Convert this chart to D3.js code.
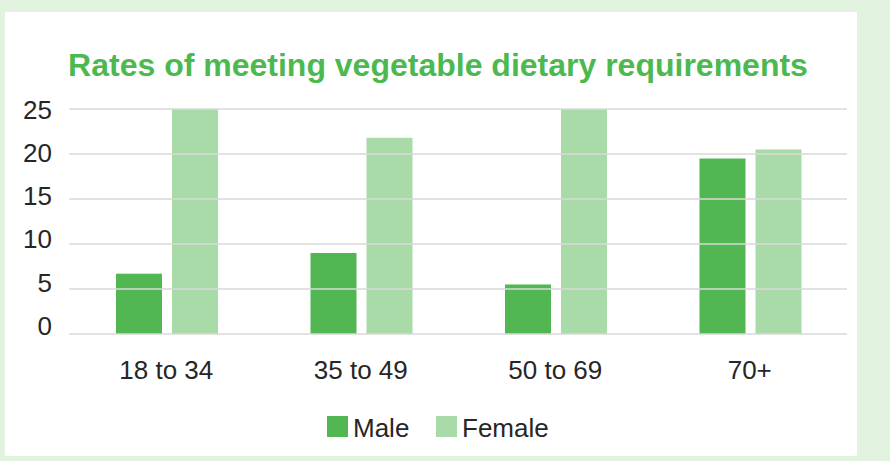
<!DOCTYPE html>
<html>
<head>
<meta charset="utf-8">
<script src="https://cdn.jsdelivr.net/npm/d3@7"></script>
<style>
  body { margin: 0; background: #e1f2de; }
  svg { display: block; font-family: "Liberation Sans", Arial, sans-serif; }
</style>
</head>
<body>
<div id="vis"></div>
<script>
// ----- DATA ----- //
const ageGroups = ["18 to 34", "35 to 49", "50 to 69", "70+"];
const seriesNames = ["Male", "Female"];
const maleValues = [6.7, 9.0, 5.5, 19.5];
const femaleValues = [25, 21.8, 25, 20.5];
const yTicks = [0, 5, 10, 15, 20, 25];

const colors = { Male: "#52b653", Female: "#a8dba8" };

let rows = ageGroups.map((g, i) => ({ group: g, Male: maleValues[i], Female: femaleValues[i] }));

const W = 890, H = 461;

const svg = d3.select("#vis")
  .append("svg")
  .attr("width", W)
  .attr("height", H);

// white card
svg.append("rect")
  .attr("x", 5).attr("y", 12)
  .attr("width", 852).attr("height", 444)
  .attr("fill", "#ffffff");

// ----- SCALES ----- //
let x = d3.scaleBand().domain(ageGroups).range([69, 847]).padding(0);
let x1 = d3.scaleBand().domain(seriesNames).range([47, 149]).paddingInner(0.1786).paddingOuter(0);
let y = d3.scaleLinear().domain([0, 25]).range([334, 109]);
// tick labels sit a little tighter than the gridlines in the original
let yLabel = d3.scaleLinear().domain([0, 25]).range([326, 110]);

// ----- TITLE ----- //
svg.append("text")
  .attr("x", 438)
  .attr("y", 76)
  .attr("text-anchor", "middle")
  .attr("fill", "#4cb950")
  .style("font-size", "32px")
  .style("font-weight", "bold")
  .text("Rates of meeting vegetable dietary requirements");

// ----- BARS ----- //
let groups = svg.append("g")
  .selectAll("g")
  .data(rows)
  .join("g")
  .attr("transform", (d) => `translate(${x(d.group)},0)`);

groups.selectAll("rect")
  .data((d) => seriesNames.map((k) => ({ key: k, value: d[k] })))
  .join("rect")
  .attr("x", (d) => x1(d.key))
  .attr("y", (d) => y(d.value))
  .attr("width", x1.bandwidth())
  .attr("height", (d) => y(0) - y(d.value))
  .attr("fill", (d) => colors[d.key]);

// ----- GRIDLINES (drawn over bars) ----- //
svg.append("g")
  .selectAll("line")
  .data(yTicks)
  .join("line")
  .attr("x1", 69).attr("x2", 847)
  .attr("y1", (d) => y(d)).attr("y2", (d) => y(d))
  .attr("stroke", "#d9d9d9")
  .attr("stroke-width", 1.5);

// ----- AXIS LABELS ----- //
let yAxis = d3.axisLeft(yLabel).tickValues(yTicks).tickSize(0).tickPadding(0);
let yAxisGroup = svg.append("g")
  .attr("transform", "translate(52,0)")
  .call(yAxis);
yAxisGroup.select(".domain").remove();
yAxisGroup.selectAll("text")
  .attr("fill", "#262626")
  .style("font-size", "26px")
  .style("font-family", "'Liberation Sans', Arial, sans-serif");

let xAxis = d3.axisBottom(x).tickSize(0).tickPadding(0);
let xAxisGroup = svg.append("g")
  .call(xAxis);
xAxisGroup.select(".domain").remove();
xAxisGroup.selectAll("text")
  .attr("y", 379)
  .attr("dy", null)
  .attr("fill", "#262626")
  .style("font-size", "26px")
  .style("font-family", "'Liberation Sans', Arial, sans-serif");

// ----- LEGEND ----- //
const legendX = [327, 436];
let legend = svg.append("g")
  .selectAll("g")
  .data(seriesNames)
  .join("g")
  .attr("transform", (d, i) => `translate(${legendX[i]},416)`);

legend.append("rect")
  .attr("width", 21).attr("height", 21)
  .attr("fill", (d) => colors[d]);

legend.append("text")
  .attr("x", 26)
  .attr("y", 21)
  .attr("fill", "#262626")
  .style("font-size", "26px")
  .text((d) => d);
</script>
</body>
</html>
